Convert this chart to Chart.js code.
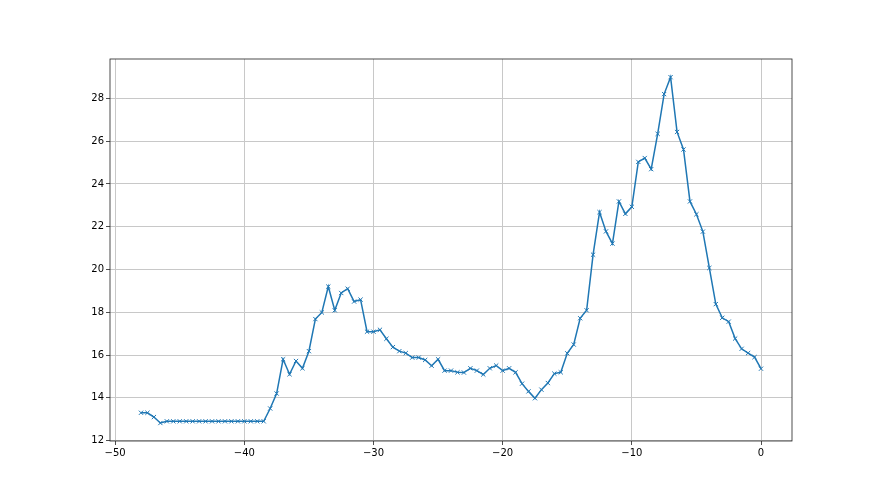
<!DOCTYPE html>
<html>
<head>
<meta charset="utf-8">
<script src="https://cdn.jsdelivr.net/npm/chart.js@4/dist/chart.umd.min.js"></script>
<style>
  html, body { margin: 0; padding: 0; background: #fff; }
  #wrap { width: 880px; height: 495px; }
</style>
</head>
<body>
<div id="wrap"><canvas id="myChart" width="880" height="495"></canvas></div>
<script>
// Valori
const xValues = [
  -48, -47.5, -47, -46.5, -46, -45.5, -45, -44.5, -44, -43.5, -43, -42.5,
  -42, -41.5, -41, -40.5, -40, -39.5, -39, -38.5, -38, -37.5, -37, -36.5,
  -36, -35.5, -35, -34.5, -34, -33.5, -33, -32.5, -32, -31.5, -31, -30.5,
  -30, -29.5, -29, -28.5, -28, -27.5, -27, -26.5, -26, -25.5, -25, -24.5,
  -24, -23.5, -23, -22.5, -22, -21.5, -21, -20.5, -20, -19.5, -19, -18.5,
  -18, -17.5, -17, -16.5, -16, -15.5, -15, -14.5, -14, -13.5, -13, -12.5,
  -12, -11.5, -11, -10.5, -10, -9.5, -9, -8.5, -8, -7.5, -7, -6.5,
  -6, -5.5, -5, -4.5, -4, -3.5, -3, -2.5, -2, -1.5, -1, -0.5, 0
];
const yValues = [
  13.3, 13.3, 13.1, 12.82, 12.9, 12.9, 12.9, 12.9, 12.9, 12.9, 12.9, 12.9,
  12.9, 12.9, 12.9, 12.9, 12.9, 12.9, 12.9, 12.9, 13.5, 14.2, 15.8, 15.1,
  15.72, 15.38, 16.18, 17.68, 17.99, 19.2, 18.09, 18.9, 19.1, 18.5, 18.59, 17.09,
  17.09, 17.18, 16.76, 16.37, 16.18, 16.09, 15.88, 15.88, 15.77, 15.5, 15.8, 15.27,
  15.27, 15.19, 15.18, 15.38, 15.27, 15.09, 15.38, 15.51, 15.27, 15.38, 15.19, 14.66,
  14.3, 13.98, 14.38, 14.69, 15.13, 15.19, 16.08, 16.49, 17.72, 18.09, 20.69, 22.68,
  21.78, 21.21, 23.18, 22.6, 22.93, 25.03, 25.21, 24.69, 26.34, 28.2, 28.99, 26.43,
  25.61, 23.18, 22.58, 21.77, 20.07, 18.38, 17.74, 17.56, 16.77, 16.29, 16.09, 15.9, 15.36
];
const xTicks = [-50, -40, -30, -20, -10, 0];
const yTicks = [12, 14, 16, 18, 20, 22, 24, 26, 28];

const fmt = (v) => (v < 0 ? '\u2212' + Math.abs(v) : String(v));

// Cornice attorno all'area del grafico
const framePlugin = {
  id: 'frame',
  afterDatasetsDraw(chart) {
    const { ctx, chartArea: a } = chart;
    ctx.save();
    ctx.strokeStyle = '#222';
    ctx.lineWidth = 0.8;
    ctx.strokeRect(a.left, a.top, a.right - a.left, a.bottom - a.top);
    ctx.restore();
  }
};

const gridOpts = {
  color: '#c8c8c8',
  lineWidth: 1,
  tickColor: '#222',
  tickWidth: 0.8,
  tickLength: 4,
  drawOnChartArea: true
};

const tickFont = { family: 'DejaVu Sans', size: 10 };

new Chart('myChart', {
  type: 'line',
  data: {
    datasets: [{
      data: xValues.map((x, i) => ({ x, y: yValues[i] })),
      borderColor: '#1f77b4',
      backgroundColor: '#1f77b4',
      borderWidth: 1.5,
      pointStyle: 'crossRot',
      pointRadius: 3,
      pointBorderWidth: 1,
      pointBorderColor: '#1f77b4',
      fill: false,
      tension: 0
    }]
  },
  plugins: [framePlugin],
  options: {
    responsive: false,
    animation: false,
    devicePixelRatio: 1,
    layout: { padding: { left: 0, right: 88, top: 59, bottom: 0 } },
    plugins: {
      legend: { display: false },
      tooltip: { enabled: false }
    },
    scales: {
      x: {
        type: 'linear',
        min: -50.4,
        max: 2.4,
        afterBuildTicks: (scale) => { scale.ticks = xTicks.map(v => ({ value: v })); },
        afterFit: (scale) => { scale.height = 54; },
        grid: gridOpts,
        border: { display: false },
        ticks: { color: '#000', font: tickFont, padding: 2, maxRotation: 0, callback: (v) => fmt(v) }
      },
      y: {
        type: 'linear',
        min: 11.98,
        max: 29.84,
        afterBuildTicks: (scale) => { scale.ticks = yTicks.map(v => ({ value: v })); },
        afterFit: (scale) => { scale.width = 110; },
        grid: gridOpts,
        border: { display: false },
        ticks: { color: '#000', font: tickFont, padding: 2, callback: (v) => fmt(v) }
      }
    }
  }
});
</script>
</body>
</html>
